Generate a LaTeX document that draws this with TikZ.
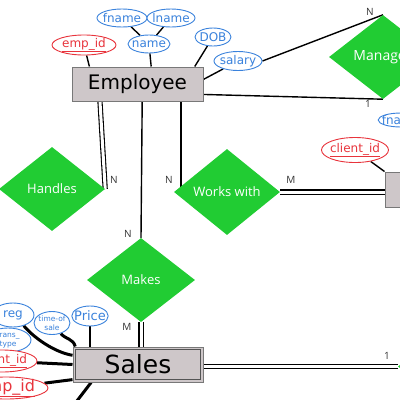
\documentclass[tikz,border=0pt]{standalone}
\usepackage{fontspec}
\setmainfont{DejaVu Sans}
\newfontfamily\relfont{Open Sans}
\usetikzlibrary{shapes.geometric,backgrounds}
\definecolor{relgreen}{RGB}{33,204,51}
\definecolor{attrblue}{RGB}{58,130,220}
\definecolor{keyred}{RGB}{232,52,60}
\definecolor{boxfill}{RGB}{206,199,201}
\definecolor{boxline}{RGB}{120,120,120}
\begin{document}
\begin{tikzpicture}[x=1pt,y=-1pt,
  entity/.style={rectangle, draw=boxline, fill=boxfill, line width=1pt, inner sep=0pt},
  rel/.style={diamond, fill=relgreen, inner sep=0pt, aspect=1.26, text=white, font=\relfont\fontsize{13}{13}\selectfont},
  attr/.style={ellipse, draw=attrblue, fill=white, line width=0.9pt, inner xsep=-3pt, inner ysep=-2pt, text=attrblue, font=\fontsize{12}{12}\selectfont},
  keyattr/.style={attr, draw=keyred, text=keyred},
  link/.style={line width=1.4pt},
  dbl/.style={double, double distance=3pt, line width=1.1pt},
  heavy/.style={line width=3pt},
  card/.style={font=\relfont\fontsize{10}{10}\selectfont, text=black!80, inner sep=0pt}]
\useasboundingbox (0,0) rectangle (400,400);
\clip (0,0) rectangle (400,400);

% entities
\node[entity, minimum width=131pt, minimum height=34pt, font=\fontsize{20}{20}\selectfont] (emp) at (137.5,84) {Employee};
\node[entity, minimum width=130pt, minimum height=35pt, font=\fontsize{25}{25}\selectfont] (sales) at (138,364.5) {Sales};
\draw[boxline!70!black, line width=1pt] ([shift={(3pt,-3pt)}]sales.north west) rectangle ([shift={(-3pt,3pt)}]sales.south east);
\node[entity, minimum width=26pt, minimum height=35pt] (client) at (398,189.5) {};

% relationships
\node[rel, minimum width=108pt, minimum height=84pt, font=\relfont\fontsize{14}{14}\selectfont] (manages) at (383,57) {Manages};
\node[rel, minimum width=106pt, minimum height=84pt] (handles) at (52,189) {Handles};
\node[rel, minimum width=106pt, minimum height=86pt] (works) at (227,192) {Works with};
\node[rel, minimum width=108pt, minimum height=84pt] (makes) at (141,280) {Makes};
\node[rel, minimum width=108pt, minimum height=84pt] (nextrel) at (452,366.5) {};

% attributes
\node[keyattr, minimum width=64pt, minimum height=20pt] (empid) at (84,45) {\underline{emp\_id}};
\node[attr, minimum width=50pt, minimum height=18pt] (fname) at (122,18) {fname};
\node[attr, minimum width=48pt, minimum height=18pt] (lname) at (171,18) {lname};
\node[attr, minimum width=42pt, minimum height=18pt] (name) at (149,44) {name};
\node[attr, minimum width=36pt, minimum height=18pt] (dob) at (213,37) {DOB};
\node[attr, minimum width=48pt, minimum height=19pt] (salary) at (238,61) {salary};
\node[attr, minimum width=40pt, minimum height=14pt] (fnright) at (401,120) {fname};
\node[keyattr, minimum width=67pt, minimum height=25pt] (clientid) at (355,150) {\underline{client\_id}};
\node[attr, minimum width=42pt, minimum height=24pt] (reg) at (13,315) {reg};
\node[attr, minimum width=36pt, minimum height=23pt, align=center, font=\fontsize{7.5}{9.5}\selectfont] (tos) at (52,323) {time-of\\sale};
\node[attr, minimum width=36pt, minimum height=20pt, font=\fontsize{13}{13}\selectfont] (price) at (90,316) {Price};
\node[attr, minimum width=46pt, minimum height=24pt, align=center, font=\fontsize{7.5}{9.5}\selectfont] (trans) at (8,340) {trans\_\\type};
\node[keyattr, minimum width=70pt, minimum height=22pt] (sclient) at (2,361) {\underline{client\_id}};
\node[keyattr, minimum width=84pt, minimum height=22pt, font=\fontsize{16}{16}\selectfont] (semp) at (6,388) {\underline{emp\_id}};
\coordinate (offbottom) at (70,410);

% connectors
\begin{scope}[on background layer]
  \draw[link] (empid) -- (emp.160);
  \draw[link] (name) -- (emp.52);
  \draw[link] (fname) -- (name);
  \draw[link] (lname) -- (name);
  \draw[link] (dob) -- (emp.17);
  \draw[link] (salary) -- (emp.4);
  \draw[link] (salary.east) -- (manages.north);
  \draw[link] (emp.-9) -- (manages.south);
  \draw[dbl] (emp.205) -- (handles.east);
  \draw[link] (emp.-75) -- (makes.north);
  \draw[link] (emp.-22) -- (emp.-22 |- works.west);
  \draw[dbl] (works.east) -- (works.east -| client.west);
  \draw[link] (clientid) -- (client.north west);
  \draw[dbl] (makes.south) -- (makes.south |- sales.north);
  \draw[link] (price) -- (price |- sales.north);
  \draw[heavy] (tos.-50) .. controls +(5,6) and +(-2,-8) .. (sales.164);
  \draw[heavy] (reg.-45) .. controls +(10,12) and +(-18,-3) .. (sales.172);
  \draw[heavy] (sclient) -- (sales.west);
  \draw[heavy] (semp) -- (sales.193);
  \draw[heavy] (sales.201) -- (offbottom);
  \draw[dbl] (sales.east |- nextrel.west) -- (nextrel.west);
\end{scope}

% cardinalities
\node[card] (c1) at (370,12) {N};
\node[card] (c2) at (368,104) {1};
\node[card] (c3) at (114,180) {N};
\node[card] (c4) at (169,180) {N};
\node[card] (c5) at (128,234) {N};
\node[card] (c6) at (291,180) {M};
\node[card] (c7) at (127,327) {M};
\node[card] (c8) at (387,356) {1};
\end{tikzpicture}
\end{document}
